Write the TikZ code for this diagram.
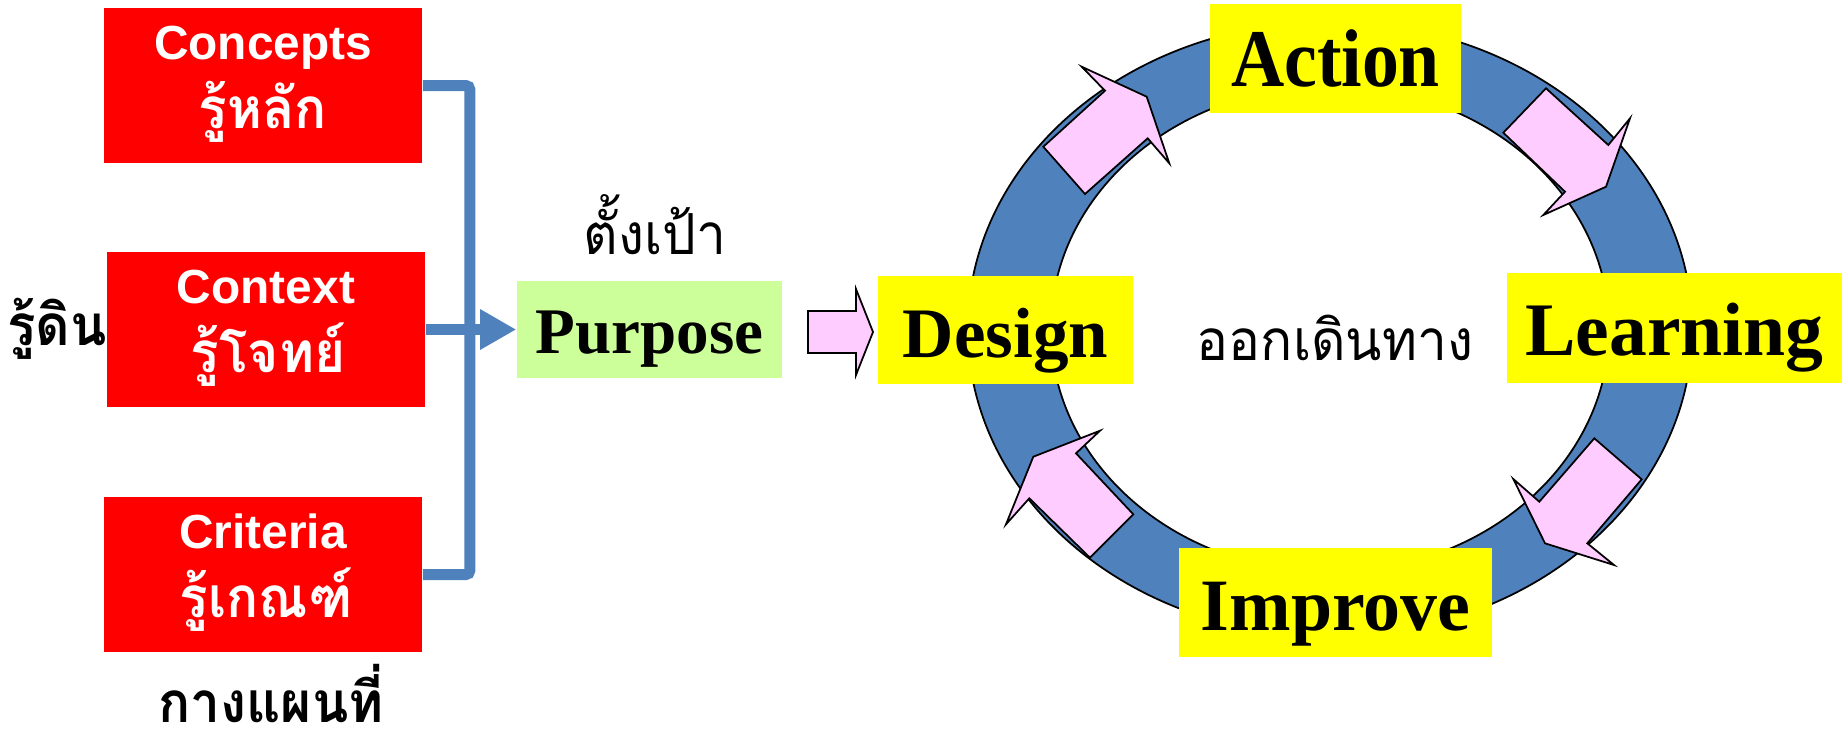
\documentclass[tikz,border=0pt]{standalone}
\usepackage{fontspec}
\setmainfont{Liberation Serif}
\newfontfamily\arialfont{Liberation Sans}
\newfontfamily\thaifont[Script=Thai,FakeStretch=0.94]{Loma}
\usetikzlibrary{arrows.meta,positioning}
\definecolor{boxred}{HTML}{FF0000}
\definecolor{ringblue}{HTML}{4F81BD}
\definecolor{boxyellow}{HTML}{FFFF00}
\definecolor{boxgreen}{HTML}{CCFF99}
\definecolor{arrowpink}{HTML}{FFCCFF}
\tikzset{x=0.01cm,y=-0.01cm}
\tikzset{
    redbox/.style={fill=boxred,minimum width=3.18cm,minimum height=1.55cm,inner sep=0pt},
    entxt/.style={anchor=base,text=white,inner sep=0pt,font=\arialfont\bfseries\fontsize{13.6pt}{16pt}\selectfont},
    thtxt/.style={anchor=base,text=white,inner sep=0pt,font=\thaifont\bfseries\fontsize{16.1pt}{19pt}\selectfont},
    thlbl/.style={anchor=base,inner sep=0pt,font=\thaifont\fontsize{16.1pt}{19pt}\selectfont},
    thbold/.style={thlbl,font=\thaifont\bfseries\fontsize{16.1pt}{19pt}\selectfont},
    stepbox/.style={fill=boxyellow,inner sep=0pt,text depth=0pt,text height=0.55cm,font=\bfseries\fontsize{21.5pt}{24pt}\selectfont},
    bracket/.style={draw=ringblue,line width=0.11cm,rounded corners=0.04cm},
    blockarrow/.style={fill=arrowpink,draw=black,line width=0.5pt,line join=miter}
}

\begin{document}
\begin{tikzpicture}
    \useasboundingbox (0,0) rectangle (1845,735);
    % the three boxes on the left
    \node[redbox] (con) at (263,85.5) {};
    \node[redbox] (ctx) at (266,329.5) {};
    \node[redbox] (cri) at (263,574.5) {};
    \node[entxt] (con1) at (263,59) {Concepts};
    \node[thtxt] (con2) at (263,128) {รู้หลัก};
    \node[entxt] (ctx1) at (266,303) {Context};
    \node[thtxt] (ctx2) at (268,372) {รู้โจทย์};
    \node[entxt] (cri1) at (263,548) {Criteria};
    \node[thtxt] (cri2) at (266,617) {รู้เกณฑ์};
    \node[thbold] (soil) at (57,345) {รู้ดิน};
    \node[thbold] (map) at (271,722) {กางแผนที่};

    % purpose
    \node[fill=boxgreen,minimum width=2.65cm,minimum height=0.97cm,inner sep=0pt,
          text depth=0pt,text height=0.47cm,font=\bfseries\fontsize{18.5pt}{22pt}\selectfont]
          (pur) at (649.5,329.5) {Purpose};
    \node[thlbl] (goal) at (655,254) {ตั้งเป้า};

    \draw[bracket] (con.east) -- ++(47,0) |- (cri.east);
    \draw[bracket,-{Triangle[length=0.36cm,width=0.38cm]}] (ctx.east) -- (pur.west);

    % cycle
    \fill[ringblue,draw=black,line width=0.5pt,even odd rule]
        (1330,329) ellipse [x radius=3.62cm,y radius=3.07cm]
        (1330,329) ellipse [x radius=2.79cm,y radius=2.43cm];
    \node[thlbl] (walk) at (1335,360) {ออกเดินทาง};

    \draw[blockarrow] (808,311) -- (856,311) -- (856,289) -- (873,332) -- (856,375) -- (856,353) -- (808,353) -- cycle;
    \draw[blockarrow] (1043.3,146.7) -- (1105,90.7) -- (1081.7,66.7) -- (1146.7,96.7) -- (1169.3,163.3) -- (1147.7,138.3) -- (1085,194) -- cycle;
    \draw[blockarrow] (1546,88.3) -- (1608.3,145) -- (1630,118.3) -- (1606,186.7) -- (1543.3,215) -- (1565,191.7) -- (1503.3,132.7) -- cycle;
    \draw[blockarrow] (1594.3,438.3) -- (1641.7,479.3) -- (1587.3,543.3) -- (1614,565) -- (1545,543.3) -- (1513.3,479) -- (1539.3,501.7) -- cycle;
    \draw[blockarrow] (1133.3,514.3) -- (1076,453.3) -- (1100,430.7) -- (1033.3,456.7) -- (1006,524.3) -- (1029.3,498.3) -- (1090,557.7) -- cycle;

    \node[stepbox,minimum width=2.55cm,minimum height=1.08cm,font=\bfseries\fontsize{20.2pt}{24pt}\selectfont] (des) at (1005.5,330) {Design};
    \node[stepbox,minimum width=2.51cm,minimum height=1.09cm,font=\bfseries\fontsize{23.3pt}{26pt}\selectfont] (act) at (1335.5,58.5) {\scalebox{0.9}[1]{Action}};
    \node[stepbox,minimum width=3.35cm,minimum height=1.10cm] (lea) at (1674.5,328) {Learning};
    \node[stepbox,minimum width=3.13cm,minimum height=1.09cm,font=\bfseries\fontsize{21pt}{24pt}\selectfont] (imp) at (1335.5,602.5) {Improve};
\end{tikzpicture}
\end{document}
